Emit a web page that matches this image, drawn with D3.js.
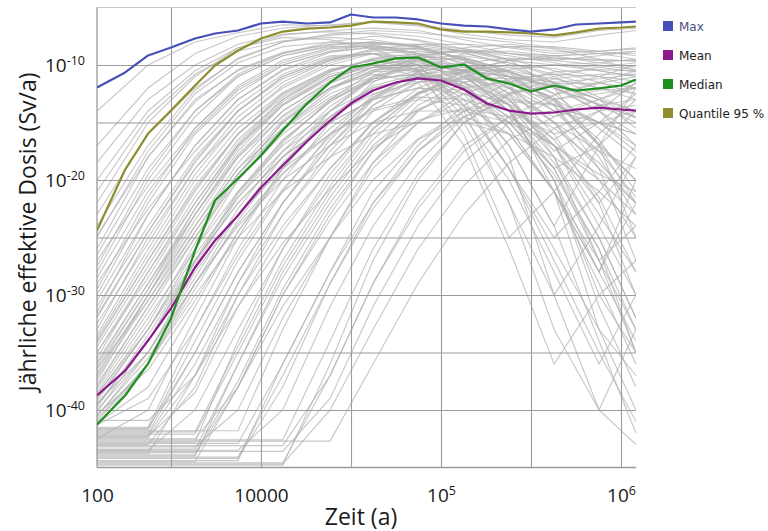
<!DOCTYPE html>
<html>
<head>
<meta charset="utf-8">
<script src="https://cdn.jsdelivr.net/npm/d3@7"></script>
<style>
  html, body { margin: 0; padding: 0; background: #fff; }
  svg { display: block; }
</style>
</head>
<body>
<svg id="chart" width="768" height="531"></svg>
<script>
// ---- Data -------------------------------------------------------------
// Time nodes (years) of the statistic curves
const statTimes = [100, 240, 490, 1000, 1850, 3080, 5550, 1e4, 1.32e4, 1.8e4, 2.42e4, 3.16e4,
  4.19e4, 5.62e4, 7.45e4, 1e5, 1.34e5, 1.8e5, 2.39e5, 3.16e5, 4.25e5, 5.62e5, 7.55e5, 1e6, 1.21e6];

// log10 of the annual effective dose (Sv/a) for each statistic
const maxExp = [-11.96, -10.65, -9.17, -8.48, -7.70, -7.26, -7.0, -6.39, -6.22, -6.39, -6.30, -5.61,
  -5.87, -5.87, -6.04, -6.39, -6.57, -6.65, -6.91, -7.09, -6.91, -6.48, -6.39, -6.30, -6.22];
const meanExp = [-38.74, -36.57, -33.96, -31.17, -27.61, -25.26, -23.09, -20.65, -18.74, -16.65, -14.83,
  -13.35, -12.22, -11.52, -11.17, -11.35, -12.13, -13.35, -13.96, -14.22, -14.13, -13.87, -13.70, -13.87, -13.96];
const medianExp = [-41.26, -38.74, -35.96, -32.04, -26.13, -21.78, -19.87, -17.87, -15.70, -13.35, -11.52,
  -10.22, -9.87, -9.43, -9.35, -10.22, -9.96, -11.17, -11.61, -12.30, -11.78, -12.22, -12.04, -11.78, -11.26];
const q95Exp = [-24.39, -19.09, -15.96, -13.96, -11.78, -10.04, -8.74, -7.70, -7.09, -6.83, -6.74, -6.57,
  -6.22, -6.30, -6.39, -6.91, -7.09, -7.09, -7.17, -7.26, -7.43, -7.17, -6.83, -6.74, -6.65];

// Time nodes (years) of the individual realisations
const realTimes = [100, 490, 1850, 5550, 1.32e4, 2.42e4, 4.19e4, 7.45e4, 1.34e5, 2.39e5, 4.25e5, 7.55e5, 1.21e6];

// log10 dose of each realisation at realTimes
const realExp = [
  [-14, -10, -8, -7.2, -6.5, -6.6, -6.2, -6.5, -7, -7.4, -7.6, -7, -6.8],
  [-17, -12, -9, -7.5, -6.8, -6.5, -6.3, -6.6, -7.3, -7.8, -8, -7.4, -7],
  [-20, -14, -10.5, -8.5, -7.4, -7, -6.8, -7, -7.8, -8.5, -9, -8.8, -8.5],
  [-23, -16, -12, -9.5, -8, -7.3, -7, -7.2, -7.6, -8, -8.5, -9, -9.5],
  [-26, -18, -13, -10.5, -9, -8, -7.5, -7.8, -8.6, -9.5, -10.5, -11.5, -12.5],
  [-28, -20, -14.5, -11, -9.2, -8.3, -8, -8.5, -10, -12, -15, -19, -22],
  [-30, -22, -16, -12.5, -10, -8.8, -8.2, -8.3, -8.8, -9.6, -10, -9.8, -9.5],
  [-31, -24, -18, -14, -11, -9.5, -8.7, -8.5, -8.8, -9.2, -9.8, -10.5, -11],
  [-33, -25, -19, -15, -12, -10, -9, -8.8, -9.3, -10.5, -12.5, -15.5, -18],
  [-34, -27, -20.5, -16, -12.8, -10.6, -9.5, -9.2, -9.6, -10.8, -12, -11, -10],
  [-35, -28, -22, -17, -13.5, -11.2, -10, -9.6, -10, -11.8, -15, -20, -25],
  [-36, -29, -23, -18, -14.5, -12, -10.5, -10, -10.4, -11, -11.5, -11.2, -10.8],
  [-37, -30, -24, -19, -15.5, -12.5, -11, -10.2, -10, -10.6, -12, -14, -16],
  [-38, -31, -25, -20, -16, -13, -11.4, -10.5, -10.2, -10.5, -11.2, -12, -12.5],
  [-38.5, -32, -26, -21, -17, -14, -12, -11, -11.5, -13.5, -17, -23, -28],
  [-39, -33, -26.5, -21.5, -17.5, -14.5, -12.5, -11.5, -11.2, -12, -13, -12.5, -12],
  [-39.5, -34, -27, -22, -18, -15, -13, -12, -12.5, -14, -16, -15, -14],
  [-40, -35, -28, -23, -19, -16, -14, -13, -13.5, -16, -21, -29, -36],
  [-40.5, -35.5, -29, -24, -20, -17, -15, -14, -14, -15, -17, -20, -23],
  [-41, -36, -30, -25, -21, -18, -16, -15, -15, -16, -18, -21, -24],
  [-41.5, -41.5, -33, -26, -20, -15, -11.5, -9.5, -8.5, -8.2, -8.6, -9.5, -10.5],
  [-42, -42, -35, -28, -22, -17, -13, -10.5, -9, -8.4, -8.4, -8.8, -9.2],
  [-42.5, -40, -32, -25, -19, -14, -11, -9.2, -8.7, -9.5, -12, -17, -22],
  [-43, -43, -38, -30, -23, -17.5, -13.5, -11, -9.8, -9.4, -9.6, -10, -10.4],
  [-43.5, -43.5, -40, -33, -26, -20, -15.5, -12.5, -10.5, -9.6, -9.4, -9.5, -9.7],
  [-44, -44, -44, -36, -28, -21.5, -16.5, -13, -11, -10.2, -10, -10.5, -11],
  [-44.5, -44.5, -44.5, -38, -30, -23, -17.5, -13.5, -11.5, -11, -11.8, -14, -17],
  [-41.2, -38, -31, -24.5, -19, -14.5, -11.8, -10.8, -11.5, -14, -19, -27, -33],
  [-42.2, -42.2, -36, -29, -23, -18, -14, -11.5, -10.5, -11, -13, -17, -20],
  [-43.2, -43.2, -43.2, -40, -32, -25, -19, -15, -12.5, -11.2, -10.8, -11, -11.4],
  [-44.2, -44.2, -44.2, -44.2, -38, -29, -22, -17, -13.5, -11.5, -10.6, -10.4, -10.5],
  [-44.8, -44.8, -44.8, -44.8, -44.8, -36, -27, -20, -15, -12.5, -11.2, -10.8, -10.8],
  [-42.8, -42.8, -42.8, -34, -26, -19.5, -15, -12, -10.5, -10, -10.3, -11, -12],
  [-43.8, -43.8, -37, -29, -22, -16.5, -12.8, -10.6, -9.8, -10.2, -11.5, -13.5, -15],
  [-41.8, -41.8, -41.8, -41.8, -33, -25, -18.5, -14, -11.5, -10.4, -10, -10.2, -10.6],
  [-42.6, -42.6, -42.6, -42.6, -42.6, -34, -26, -19.5, -15, -12.6, -11.6, -11.6, -12],
  [-43.6, -43.6, -43.6, -43.6, -43.6, -39, -31, -24, -18.5, -15, -13, -12.2, -12],
  [-44.6, -44.6, -44.6, -44.6, -44.6, -37, -29, -22, -17, -14.5, -14, -15, -16],
  [-41.4, -36, -29, -23, -18, -14, -11.2, -9.6, -9.4, -10.6, -13.5, -18, -23],
  [-40.2, -34, -27.5, -21.5, -16.8, -13, -10.6, -9.4, -9.2, -9.8, -11, -12.8, -14],
  [-37.5, -30, -23, -17.5, -13.5, -11, -10, -10.5, -13, -19, -27, -35, -41],
  [-35.5, -28, -21.5, -16.5, -13, -10.8, -10, -11, -15, -22, -30, -24, -18],
  [-32, -24.5, -18.5, -14, -11, -9.4, -9, -10, -13.5, -19, -26, -33, -37],
  [-29, -22.5, -17.5, -13.5, -10.8, -9.3, -9, -9.6, -11.5, -15.5, -21, -28, -20],
  [-27, -20.5, -15.5, -12, -9.8, -8.6, -8.3, -9, -12, -17, -24, -17, -12],
  [-40.8, -36, -29.5, -23.5, -18.5, -14.5, -12, -11, -12, -15.5, -21, -28, -34],
  [-42.4, -42.4, -37, -30, -24, -19, -15, -12.5, -11.5, -13, -17, -24, -30],
  [-43.4, -43.4, -43.4, -36, -28.5, -22, -17, -13.8, -12.5, -14, -18.5, -25, -32],
  [-44.4, -44.4, -44.4, -44.4, -36, -28, -21, -16.5, -14.5, -16, -21, -27, -24],
  [-39.2, -33, -26, -20, -15.5, -12.2, -10.4, -10, -11, -14, -20, -31, -38],
  [-36.5, -29.5, -22.5, -17, -13.2, -11, -10.2, -10.3, -12, -18, -30, -40, -33],
  [-41.6, -41.6, -35, -28, -22, -17, -13.5, -11.5, -11, -13.5, -21, -33, -40],
  [-43.9, -43.9, -43.9, -38, -30, -23.5, -18.5, -15, -13, -14, -20, -30, -35],
  [-38.2, -31.5, -25, -19.5, -15, -12, -10.8, -11.5, -17, -26, -36, -30, -27],
  [-34.5, -27.5, -21, -16, -12.5, -10.4, -9.6, -10, -14, -22, -33, -40, -43],
  [-22, -15, -11, -8.5, -7.6, -7.8, -8.6, -10, -12, -14.5, -17, -19.5, -21],
  [-25, -17.5, -12.5, -9.8, -8.4, -8, -8.2, -9, -10.5, -12.5, -15, -17.5, -19],
  [-27.5, -19.5, -14, -10.8, -9, -8.2, -8, -8.4, -9.5, -11, -13, -15, -16],
  [-31.5, -23, -17, -13, -10.4, -8.9, -8.4, -8.6, -9.4, -10.6, -12, -13.5, -14.5],
  [-33.5, -26, -19.5, -15, -11.8, -9.8, -8.8, -8.6, -9, -9.8, -10.8, -12, -13],
  [-42.1, -42.1, -42.1, -35, -27.5, -21, -16, -12.6, -10.6, -9.6, -9.2, -9, -9],
  [-44.1, -44.1, -44.1, -44.1, -37, -29, -22.5, -17.5, -14, -12, -11, -10.2, -9.8],
  [-43.1, -43.1, -43.1, -43.1, -43.1, -37, -29, -22.5, -17.5, -14.5, -12.6, -11.6, -11],
  [-44.7, -44.7, -44.7, -44.7, -44.7, -40, -33, -26, -20.5, -16.5, -14.5, -13.5, -13],
  [-42.9, -42.9, -42.9, -42.9, -36, -28, -22, -17.5, -14.5, -13.2, -13.5, -15, -17],
  [-42.7, -42.7, -42.7, -42.7, -42.7, -42.7, -36, -29, -23, -18.5, -15.5, -14, -13.5],
  [-24, -17, -12.2, -9.4, -8, -7.4, -7.2, -7.5, -8.2, -9, -9.6, -9.2, -8.8],
  [-29.5, -21.5, -15.5, -11.8, -9.6, -8.5, -8.1, -8.2, -8.6, -9, -9.2, -9, -8.8],
  [-32.5, -25.5, -19, -14.5, -11.5, -9.6, -8.6, -8.2, -8.2, -8.4, -8.8, -8.8, -8.6],
  [-36.8, -30, -23.5, -18, -14, -11.4, -9.8, -9, -8.8, -9, -9.4, -9.6, -9.6],
  [-38.8, -32.5, -25.5, -19.5, -15, -12, -10.2, -9.2, -8.8, -8.8, -9.2, -9.8, -10.2],
  [-40.6, -35, -28.5, -22.5, -17.5, -13.6, -11.2, -10.2, -10.8, -13, -17.5, -15, -12.5],
  [-41.7, -41.7, -34, -27, -21, -16, -12.6, -10.8, -10.4, -12, -16, -22, -18],
  [-43.7, -43.7, -43.7, -37.5, -29.5, -22.5, -17.5, -14, -12, -11.4, -12.8, -17, -25],
  [-35, -28.5, -22, -16.8, -13, -10.6, -9.4, -9, -9.8, -12.5, -18, -27, -35],
  [-37.2, -30.5, -24, -18.5, -14.4, -11.6, -10.2, -9.8, -10.5, -12.8, -14.5, -13, -11.6],
  [-39.6, -34, -27.2, -21.2, -16.6, -13.2, -11, -10, -10, -11, -13.2, -16.8, -20],
  [-41.9, -41.9, -41.9, -34.5, -27, -20.5, -15.6, -12.4, -11, -11.2, -13, -16.5, -21],
  [-30.5, -23, -17, -13, -10.5, -9.2, -9, -10.5, -16, -25, -21, -16, -13],
  [-33.8, -26.5, -20, -15.5, -12.4, -10.4, -9.6, -10.4, -14.5, -20, -28, -36, -30],
  [-36.2, -29.5, -23, -17.8, -14, -11.5, -10.2, -10.6, -13.5, -19, -25, -21, -17],
  [-39.8, -33.5, -27, -21, -16.5, -13.2, -11.2, -10.8, -12.5, -17, -24, -34, -42],
  [-26.5, -19, -14, -11, -9.2, -8.4, -8.4, -9.2, -11, -13.5, -16.5, -14, -11.5],
  [-21, -14.5, -10.8, -8.8, -7.9, -7.6, -7.8, -8.4, -9.5, -11, -12.5, -11.5, -10.5],
  [-18.5, -13, -10, -8.2, -7.3, -7.1, -7.3, -7.9, -8.9, -10, -11.5, -13, -14.5],
  [-40.4, -36.5, -30.5, -24.5, -19.5, -15.5, -12.8, -11.2, -10.6, -11, -12, -13.4, -14.6],
  [-41.3, -39, -33, -26.5, -20.8, -16.2, -13, -11.2, -10.4, -10.6, -11.6, -13, -14],
  [-42.3, -42.3, -38.5, -31, -24.5, -19, -15, -12.4, -11.2, -11.4, -13.5, -19, -27],
  [-43.5, -43.5, -43.5, -43.5, -40, -31, -24, -18.5, -14.5, -12.4, -11.8, -13, -15.5],
  [-37.8, -31, -24.5, -19, -14.8, -12, -10.6, -10.4, -11.8, -15, -19.5, -26, -33],
  [-35.8, -29, -22.5, -17.2, -13.4, -11, -9.8, -9.6, -10.6, -13, -16.5, -21.5, -28],
  [-31.8, -24.5, -18.3, -14, -11.2, -9.6, -9, -9.3, -10.6, -13.5, -18, -25, -32],
  [-28.5, -21, -15.8, -12.2, -10, -8.8, -8.5, -9, -10.2, -12, -14, -13, -12],
  [-39.4, -35, -29, -23.8, -19.4, -16, -13.8, -12.8, -13, -15, -19, -26, -35],
  [-40.9, -40.9, -37, -31, -25.5, -20.8, -17.2, -14.8, -13.8, -14.5, -17, -22, -30],
  [-34.2, -27, -20.8, -16, -12.6, -10.5, -9.5, -9.4, -10.8, -14, -20, -28, -22],
  [-24.8, -18, -13.2, -10.4, -8.9, -8.2, -8, -8.4, -9.6, -11.4, -14, -17.5, -21.5],
  [-36.4, -30.5, -24.5, -19.5, -15.6, -12.8, -11.2, -10.8, -11.8, -14.6, -19, -17, -14],
  [-38.6, -33, -27, -22, -18, -15, -13, -12, -12.2, -13.4, -15.5, -18.5, -22],
  [-42.5, -42.5, -42.5, -38, -31, -25, -20, -16.4, -14, -13, -13.4, -15, -17.5]
];

// Axis ticks, grid and legend
const xTickValues = [100, 1e4, 1e5, 1e6];
const xTickBase = ["100", "10000", "10", "10"];
const xTickSup = ["", "", "5", "6"];
const yTickValues = [1e-10, 1e-20, 1e-30, 1e-40];
const yTickSup = ["-10", "-20", "-30", "-40"];
const xGridValues = [1000, 1e4, 10 ** 4.5, 1e5, 10 ** 5.5, 1e6];
const yGridValues = [1e-10, 1e-15, 1e-20, 1e-25, 1e-30, 1e-35, 1e-40];
const seriesNames = ["Max", "Mean", "Median", "Quantile 95 %"];
const seriesColors = ["#4650b6", "#8c1a8c", "#1f8f1f", "#8e8e2e"];

// ---- Layout -----------------------------------------------------------
const plotLeft = 97, plotRight = 636, plotTop = 7.5, plotBottom = 467.5;
const svg = d3.select("#chart");

// Log time axis, compressed below 10^4 years
const x = d3.scaleLog()
  .domain([100, 1000, 1e4, 10 ** (4 + 375 / 180)])
  .range([plotLeft, 171, 261, plotRight]);
const y = d3.scaleLog().domain([1e-45, 1e-5]).range([plotBottom, plotTop]);

svg.append("defs").append("clipPath").attr("id", "plotClip")
  .append("rect").attr("x", plotLeft).attr("y", plotTop - 2)
  .attr("width", plotRight - plotLeft).attr("height", plotBottom - plotTop + 2);

const line = d3.line().x(d => x(d.t)).y(d => y(d.v));

// Individual realisations
const realData = realExp.map(r => r.map((e, i) => ({ t: realTimes[i], v: 10 ** e })));
svg.append("g").attr("clip-path", "url(#plotClip)")
  .selectAll("path").data(realData).join("path")
  .attr("d", line)
  .attr("fill", "none")
  .attr("stroke", "#b2b2b2")
  .attr("stroke-opacity", 0.72)
  .attr("stroke-width", 1.15);

// Grid lines
const gx = svg.append("g").attr("transform", `translate(0,${plotBottom})`)
  .call(d3.axisBottom(x).tickValues(xGridValues).tickSize(-(plotBottom - plotTop)).tickFormat(""));
gx.select(".domain").remove();
gx.selectAll("line").attr("stroke", "#9c9c9c").attr("stroke-width", 1.1);

const gy = svg.append("g").attr("transform", `translate(${plotLeft},0)`)
  .call(d3.axisLeft(y).tickValues(yGridValues).tickSize(-(plotRight - plotLeft)).tickFormat(""));
gy.select(".domain").remove();
gy.selectAll("line").attr("stroke", "#9c9c9c").attr("stroke-width", 1.1);

// Frame
svg.append("line").attr("x1", plotLeft).attr("x2", plotRight).attr("y1", plotTop).attr("y2", plotTop)
  .attr("stroke", "#c9c9c9").attr("stroke-width", 1.2);
svg.append("line").attr("x1", plotLeft).attr("x2", plotRight).attr("y1", plotBottom).attr("y2", plotBottom)
  .attr("stroke", "#9a9a9a").attr("stroke-width", 1.3);
svg.append("line").attr("x1", plotLeft).attr("x2", plotLeft).attr("y1", plotTop).attr("y2", plotBottom)
  .attr("stroke", "#9a9a9a").attr("stroke-width", 1.3);

// Statistic curves
const statExps = [maxExp, meanExp, medianExp, q95Exp];
const drawOrder = [1, 2, 3, 0];
const statG = svg.append("g").attr("clip-path", "url(#plotClip)");
drawOrder.forEach(k => {
  const pts = statExps[k].map((e, i) => ({ t: statTimes[i], v: 10 ** e }));
  statG.append("path").datum(pts)
    .attr("d", line)
    .attr("fill", "none")
    .attr("stroke", seriesColors[k])
    .attr("stroke-width", 2.2)
    .attr("stroke-linejoin", "round");
});

// Tick labels
const fontFam = "'Open Sans', 'DejaVu Sans', sans-serif";
const xLab = svg.append("g").attr("transform", `translate(0,${plotBottom})`)
  .call(d3.axisBottom(x).tickValues(xTickValues).tickSize(0).tickPadding(0).tickFormat(""));
xLab.select(".domain").remove();
xLab.selectAll(".tick text").each(function (d, i) {
  const t = d3.select(this)
    .attr("y", 34).attr("dy", null)
    .attr("fill", "#1a1a1a")
    .style("font-family", fontFam).style("font-size", "19px");
  t.append("tspan").text(xTickBase[i]);
  if (xTickSup[i]) t.append("tspan").attr("dy", -7).style("font-size", "12.5px").text(xTickSup[i]);
});

const yLab = svg.append("g").attr("transform", `translate(85,0)`)
  .call(d3.axisLeft(y).tickValues(yTickValues).tickSize(0).tickPadding(0).tickFormat(""));
yLab.select(".domain").remove();
yLab.selectAll(".tick text").each(function (d, i) {
  const t = d3.select(this)
    .attr("x", 0).attr("dy", "0.35em")
    .attr("text-anchor", "end")
    .attr("fill", "#1a1a1a")
    .style("font-family", fontFam).style("font-size", "19px");
  t.append("tspan").text("10");
  t.append("tspan").attr("dy", -7).style("font-size", "12.5px").text(yTickSup[i]);
});

// Axis titles
svg.append("text")
  .attr("x", 361).attr("y", 525)
  .attr("text-anchor", "middle")
  .attr("fill", "#1a1a1a")
  .style("font-family", fontFam).style("font-size", "23px")
  .text("Zeit (a)");

svg.append("text")
  .attr("transform", "translate(36,232) rotate(-90)")
  .attr("text-anchor", "middle")
  .attr("fill", "#1a1a1a")
  .style("font-family", fontFam).style("font-size", "23px")
  .text("Jährliche effektive Dosis (Sv/a)");

// Legend
const legend = svg.append("g").attr("transform", "translate(663,21)");
const items = legend.selectAll("g").data(seriesNames).join("g")
  .attr("transform", (d, i) => `translate(0,${i * 29})`);
items.append("rect").attr("width", 10).attr("height", 10)
  .attr("fill", (d, i) => seriesColors[i]);
items.append("text").attr("x", 16).attr("y", 9.5)
  .attr("fill", (d, i) => i === 0 ? "#4a4f86" : "#222")
  .style("font-family", "'DejaVu Sans', Verdana, sans-serif").style("font-size", "12px")
  .text(d => d);
</script>
</body>
</html>
